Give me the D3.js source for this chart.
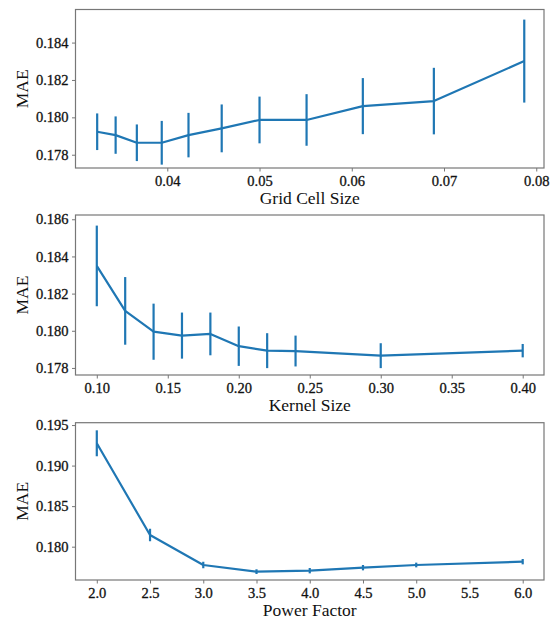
<!DOCTYPE html>
<html>
<head>
<meta charset="utf-8">
<script src="https://cdn.jsdelivr.net/npm/d3@7"></script>
<style>
  html, body { margin: 0; padding: 0; background: #fff; }
  svg { display: block; }
</style>
</head>
<body>
<svg id="chart" width="553" height="619"></svg>
<script>
// Panel 1: sensitivity to grid cell size
const gridCellSize = [0.0324, 0.0344, 0.0367, 0.0394, 0.0423, 0.0459, 0.0500, 0.0551, 0.0612, 0.0689, 0.0787];
const gridMAE      = [0.17923, 0.17905, 0.17864, 0.17864, 0.17905, 0.17941, 0.17986, 0.17986, 0.18060, 0.18087, 0.18301];
const gridErr      = [0.00098, 0.00100, 0.00098, 0.00117, 0.00119, 0.00128, 0.00125, 0.00138, 0.00150, 0.00178, 0.00222];
const gridXTicks   = [0.04, 0.05, 0.06, 0.07, 0.08];
const gridYTicks   = [0.178, 0.180, 0.182, 0.184];

// Panel 2: sensitivity to kernel size
const kernelSize   = [0.10, 0.12, 0.14, 0.16, 0.18, 0.20, 0.22, 0.24, 0.30, 0.40];
const kernelMAE    = [0.18349, 0.18107, 0.17995, 0.17974, 0.17983, 0.17917, 0.17893, 0.17891, 0.17866, 0.17893];
const kernelErr    = [0.00217, 0.00182, 0.00151, 0.00124, 0.00115, 0.00106, 0.00094, 0.00083, 0.00067, 0.00036];
const kernelXTicks = [0.10, 0.15, 0.20, 0.25, 0.30, 0.35, 0.40];
const kernelYTicks = [0.178, 0.180, 0.182, 0.184, 0.186];

// Panel 3: sensitivity to power factor
const powerFactor  = [2.0, 2.5, 3.0, 3.5, 4.0, 4.5, 5.0, 6.0];
const powerMAE     = [0.19275, 0.18144, 0.17774, 0.17692, 0.17704, 0.17741, 0.17774, 0.17815];
const powerErr     = [0.00160, 0.00077, 0.00040, 0.00029, 0.00033, 0.00033, 0.00029, 0.00033];
const powerXTicks  = [2.0, 2.5, 3.0, 3.5, 4.0, 4.5, 5.0, 5.5, 6.0];
const powerYTicks  = [0.180, 0.185, 0.190, 0.195];

const yLabel = "MAE";
const color = "#1f77b4";
const serif = "'Liberation Serif', 'Times New Roman', serif";
const textColor = "#111";

const panels = [
  { x: gridCellSize, y: gridMAE, err: gridErr, xTicks: gridXTicks, yTicks: gridYTicks,
    xDomain: [0.03005, 0.08084], yDomain: [0.17729, 0.18577], xFmt: ".2f", yFmt: ".3f",
    xLabel: "Grid Cell Size", top: 9.5, bottom: 168 },
  { x: kernelSize, y: kernelMAE, err: kernelErr, xTicks: kernelXTicks, yTicks: kernelYTicks,
    xDomain: [0.085, 0.415], yDomain: [0.17762, 0.18623], xFmt: ".2f", yFmt: ".3f",
    xLabel: "Kernel Size", top: 215, bottom: 375 },
  { x: powerFactor, y: powerMAE, err: powerErr, xTicks: powerXTicks, yTicks: powerYTicks,
    xDomain: [1.8, 6.2], yDomain: [0.17589, 0.19529], xFmt: ".1f", yFmt: ".3f",
    xLabel: "Power Factor", top: 422.7, bottom: 580 }
];

const left = 75.5, right = 544;
const svg = d3.select("#chart");
const frameColor = "#777";

panels.forEach(p => {
  const g = svg.append("g");
  const x = d3.scaleLinear().domain(p.xDomain).range([left, right]);
  const y = d3.scaleLinear().domain(p.yDomain).range([p.bottom, p.top]);

  // axes
  const xAxis = g.append("g")
    .attr("transform", `translate(0,${p.bottom})`)
    .call(d3.axisBottom(x).tickValues(p.xTicks).tickFormat(d3.format(p.xFmt)).tickSizeOuter(0).tickSize(3.5).tickPadding(4));
  const yAxis = g.append("g")
    .attr("transform", `translate(${left},0)`)
    .call(d3.axisLeft(y).tickValues(p.yTicks).tickFormat(d3.format(p.yFmt)).tickSizeOuter(0).tickSize(3.5).tickPadding(3.5));
  [xAxis, yAxis].forEach(a => {
    a.attr("font-family", serif).attr("font-size", 14.5);
    a.select(".domain").remove();
    a.selectAll(".tick line").attr("stroke", frameColor).attr("stroke-width", 1);
    a.selectAll(".tick text").attr("fill", textColor)
      .attr("stroke", textColor).attr("stroke-width", 0.3);
  });

  // frame
  g.append("rect")
    .attr("x", left).attr("y", p.top)
    .attr("width", right - left).attr("height", p.bottom - p.top)
    .attr("fill", "none").attr("stroke", frameColor).attr("stroke-width", 1.2);

  const pts = p.x.map((v, i) => ({ x: v, y: p.y[i], e: p.err[i] }));

  // error bars
  g.selectAll(".err").data(pts).enter().append("line")
    .attr("class", "err")
    .attr("x1", d => x(d.x)).attr("x2", d => x(d.x))
    .attr("y1", d => y(d.y - d.e)).attr("y2", d => y(d.y + d.e))
    .attr("stroke", color).attr("stroke-width", 2.2);

  // mean line
  g.append("path").datum(pts)
    .attr("d", d3.line().x(d => x(d.x)).y(d => y(d.y)))
    .attr("fill", "none").attr("stroke", color).attr("stroke-width", 2.2)
    .attr("stroke-linejoin", "round");

  // axis titles
  g.append("text")
    .attr("font-family", serif).attr("font-size", 17.5).attr("fill", textColor)
    .attr("x", (left + right) / 2).attr("y", p.bottom + 36)
    .attr("text-anchor", "middle").text(p.xLabel);
  g.append("text")
    .attr("font-family", serif).attr("font-size", 17.5).attr("fill", textColor)
    .attr("transform", `translate(27.5,${(p.top + p.bottom) / 2}) rotate(-90)`)
    .attr("text-anchor", "middle").text(yLabel);
});
</script>
</body>
</html>
